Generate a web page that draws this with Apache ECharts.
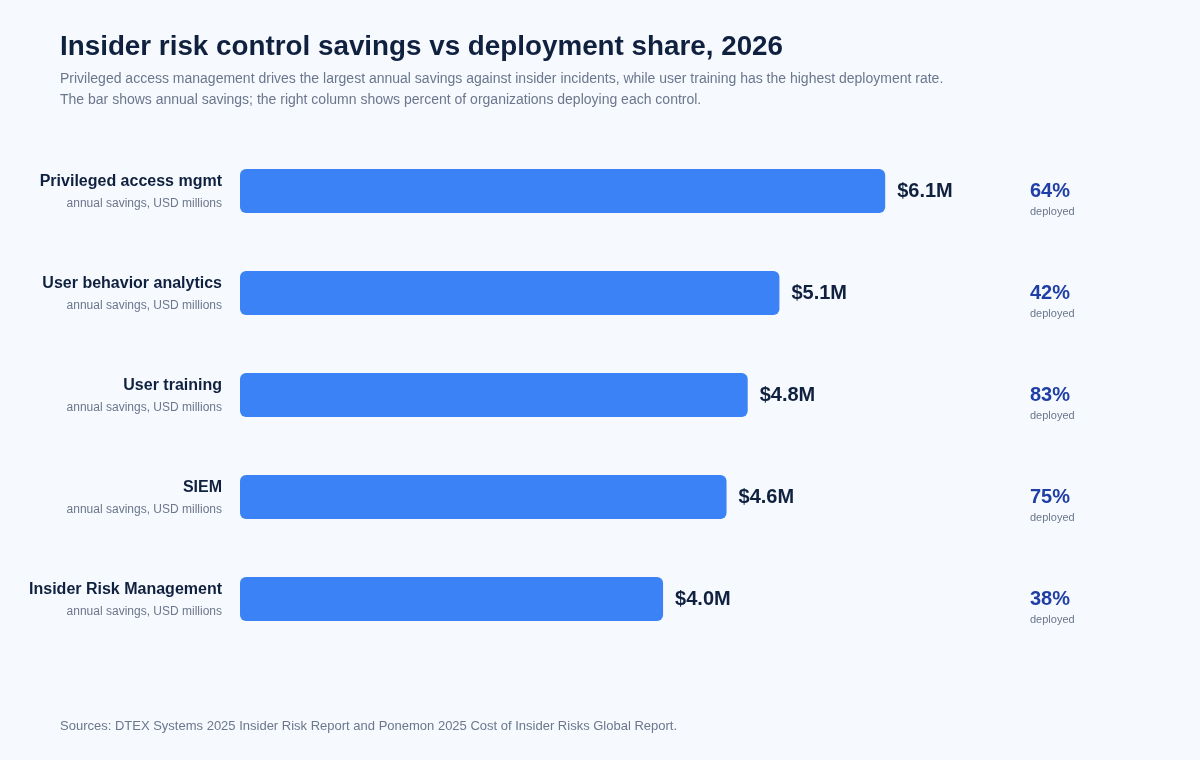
<!DOCTYPE html>
<html>
<head>
<meta charset="utf-8">
<script src="https://cdn.jsdelivr.net/npm/echarts@6/dist/echarts.min.js"></script>
<style>
  html, body { margin: 0; padding: 0; background: #f6f9fe; }
  #chart { width: 1200px; height: 760px; }
</style>
</head>
<body>
<div id="chart"></div>
<script>
// chart data
var controls = ['Privileged access mgmt', 'User behavior analytics', 'User training', 'SIEM', 'Insider Risk Management']
var savings = [6.1, 5.1, 4.8, 4.6, 4.0]
var deployed = [64, 42, 83, 75, 38]
var subLabel = 'annual savings, USD millions'

var font = '"Liberation Sans", Helvetica, Arial, sans-serif'
var myChart = echarts.init(document.getElementById('chart'))

var option = {
    backgroundColor: '#f6f9fe',
    textStyle: { fontFamily: font },
    title: [
        {
            text: 'Insider risk control savings vs deployment share, 2026',
            left: 60, top: 33, padding: 0,
            textStyle: { fontSize: 27.8, fontWeight: 'bold', color: '#10213f', fontFamily: font }
        },
        {
            text: 'Privileged access management drives the largest annual savings against insider incidents, while user training has the highest deployment rate.\nThe bar shows annual savings; the right column shows percent of organizations deploying each control.',
            left: 60, top: 69, padding: 0,
            textStyle: { fontSize: 14, fontWeight: 'normal', color: '#6b778c', lineHeight: 21, fontFamily: font }
        },
        {
            text: 'Sources: DTEX Systems 2025 Insider Risk Report and Ponemon 2025 Cost of Insider Risks Global Report.',
            left: 60, top: 720, padding: 0,
            textStyle: { fontSize: 13, fontWeight: 'normal', color: '#6b778c', fontFamily: font }
        }
    ],
    grid: { left: 240, top: 140, width: 770, height: 510 },
    xAxis: {
        type: 'value', min: 0, max: 7.28,
        show: false
    },
    yAxis: [
        {
            type: 'category', inverse: true, data: controls,
            axisLine: { show: false }, axisTick: { show: false },
            axisLabel: {
                margin: 18, align: 'right', padding: [2, 0, 0, 0],
                formatter: function (v) { return '{n|' + v + '}\n{s|' + subLabel + '}' },
                rich: {
                    n: { fontSize: 16, fontWeight: 'bold', color: '#10213f', lineHeight: 24, align: 'right', fontFamily: font },
                    s: { fontSize: 12, color: '#6b778c', lineHeight: 20, align: 'right', fontFamily: font }
                }
            }
        },
        {
            type: 'category', inverse: true, position: 'right', data: deployed,
            axisLine: { show: false }, axisTick: { show: false },
            axisLabel: {
                margin: 20, align: 'left', padding: [18, 0, 0, 0],
                formatter: function (v) { return '{p|' + v + '%}\n{d|deployed}' },
                rich: {
                    p: { fontSize: 20, fontWeight: 'bold', color: '#1f3fa6', lineHeight: 24, fontFamily: font },
                    d: { fontSize: 11, color: '#6b778c', lineHeight: 18, fontFamily: font }
                }
            }
        }
    ],
    series: [
        {
            name: 'Annual savings',
            type: 'bar',
            data: savings,
            barWidth: 44,
            itemStyle: { color: '#3b82f6', borderRadius: 6 },
            label: {
                show: true, position: 'right', distance: 12,
                formatter: function (p) { return '$' + p.value.toFixed(1) + 'M' },
                fontSize: 20, fontWeight: 'bold', color: '#10213f', fontFamily: font
            },
            silent: true
        }
    ]
}

myChart.setOption(option)
</script>
</body>
</html>
